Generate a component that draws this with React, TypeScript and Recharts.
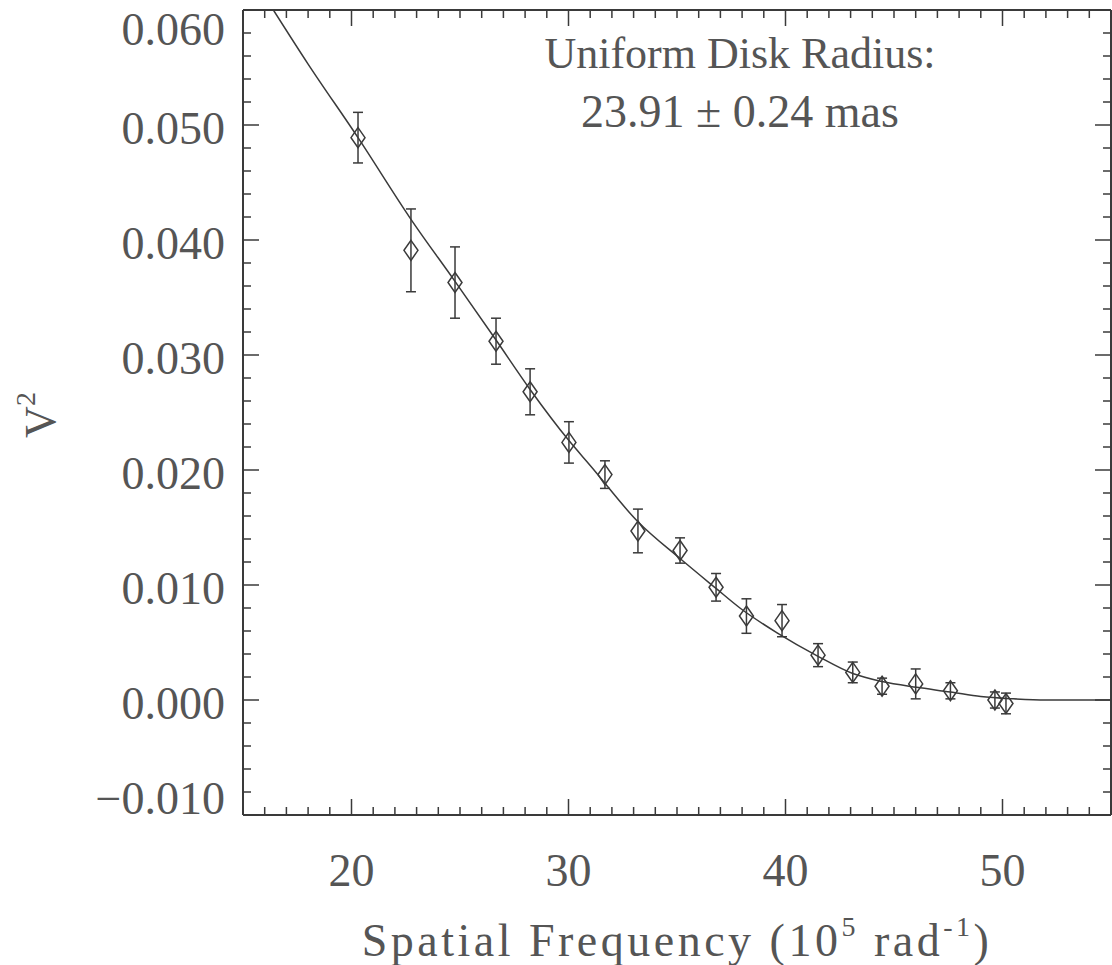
import React from 'react';
import { ComposedChart, Line, Scatter, ErrorBar, XAxis, YAxis } from 'recharts';

// measured squared visibilities
const freq = [20.3, 22.74, 24.77, 26.66, 28.23, 30.02, 31.68, 33.2, 35.14, 36.8, 38.2, 39.84, 41.5, 43.1, 44.45, 46.0, 47.6, 49.65, 50.16];
const vis2 = [0.0489, 0.0391, 0.0363, 0.0312, 0.0268, 0.0224, 0.0196, 0.0147, 0.013, 0.0098, 0.0073, 0.0069, 0.0039, 0.0024, 0.0012, 0.0014, 0.0008, 0.0, -0.0003];
const vis2Err = [0.0022, 0.0036, 0.0031, 0.002, 0.002, 0.0018, 0.0012, 0.0019, 0.0011, 0.0012, 0.0015, 0.0014, 0.001, 0.0009, 0.0007, 0.0013, 0.0007, 0.0007, 0.0009];

// uniform disk fit
const fitFreq = [16.4, 18.0, 20.3, 22.74, 24.77, 26.66, 28.23, 30.0, 31.0, 33.2, 35.14, 36.8, 37.9, 39.65, 41.5, 43.1, 44.45, 46.05, 47.6, 49.0, 50.5, 52.0, 53.5, 55.0];
const fitVis2 = [0.06, 0.0553, 0.0489, 0.0418, 0.0364, 0.0313, 0.027, 0.0226, 0.0204, 0.0155, 0.0123, 0.0097, 0.008, 0.0058, 0.0038, 0.0023, 0.0016, 0.0011, 0.0007, 0.0003, 0.0001, 0.0, 0.0, 0.0];

const xMajor = [20, 30, 40, 50];
const yMajor = [-0.01, 0.0, 0.01, 0.02, 0.03, 0.04, 0.05, 0.06];
const yLabels = ['\u22120.010', '0.000', '0.010', '0.020', '0.030', '0.040', '0.050', '0.060'];

const xTicks: number[] = [];
for (let i = 15; i <= 55; i++) xTicks.push(i);
const yTicks: number[] = [];
for (let i = -10; i <= 60; i += 2) yTicks.push(i / 1000);

const points = freq.map((x, i) => ({ x, y: vis2[i], err: vis2Err[i] }));
const fit = fitFreq.map((x, i) => ({ x, y: fitVis2[i] }));

const INK = '#3a3a3a';
const TEXT = '#555555';
const FONT = '"Liberation Serif", "Times New Roman", serif';
const MAJOR = 16;
const MINOR = 8;

const isMajorX = (v: number) => xMajor.some((m) => Math.abs(m - v) < 1e-6);
const majorYIndex = (v: number) => yMajor.findIndex((m) => Math.abs(m - v) < 1e-7);

const BottomTick = (props: any) => {
  const { x, y, payload } = props;
  const major = isMajorX(payload.value);
  return (
    <g>
      <line x1={x} y1={y} x2={x} y2={y - (major ? MAJOR : MINOR)} stroke={INK} strokeWidth={1.5} />
      {major && (
        <text x={x} y={y + 71} textAnchor="middle" fontFamily={FONT} fontSize={46} fill={TEXT}>
          {payload.value}
        </text>
      )}
    </g>
  );
};

const TopTick = (props: any) => {
  const { x, y, payload } = props;
  const major = isMajorX(payload.value);
  return <line x1={x} y1={y} x2={x} y2={y + (major ? MAJOR : MINOR)} stroke={INK} strokeWidth={1.5} />;
};

const LeftTick = (props: any) => {
  const { x, y, payload } = props;
  const idx = majorYIndex(payload.value);
  let shift = 3;
  if (idx === 0) shift = -17;
  if (idx === yMajor.length - 1) shift = 19;
  return (
    <g>
      <line x1={x} y1={y} x2={x + (idx >= 0 ? MAJOR : MINOR)} y2={y} stroke={INK} strokeWidth={1.5} />
      {idx >= 0 && (
        <text x={x - 18} y={y + shift + 16} textAnchor="end" fontFamily={FONT} fontSize={46} fill={TEXT}>
          {yLabels[idx]}
        </text>
      )}
    </g>
  );
};

const RightTick = (props: any) => {
  const { x, y, payload } = props;
  const idx = majorYIndex(payload.value);
  return <line x1={x} y1={y} x2={x - (idx >= 0 ? MAJOR : MINOR)} y2={y} stroke={INK} strokeWidth={1.5} />;
};

const Diamond = (props: any) => {
  const { cx, cy } = props;
  if (cx == null || cy == null) return null;
  return (
    <path
      d={`M${cx},${cy - 10} L${cx + 7},${cy} L${cx},${cy + 10} L${cx - 7},${cy} Z`}
      fill="none"
      stroke={INK}
      strokeWidth={1.5}
    />
  );
};

export default function App() {
  return (
    <div style={{ position: 'absolute', left: 0, top: 0, width: 1112, height: 965, background: '#fff' }}>
      <ComposedChart width={1112} height={965} margin={{ top: 9, right: 0, bottom: 149, left: 242 }}>
        <XAxis
          xAxisId="b"
          type="number"
          dataKey="x"
          domain={[15, 55]}
          allowDataOverflow
          ticks={xTicks}
          interval={0}
          height={1}
          tickSize={0}
          tickMargin={0}
          tickLine={false}
          tick={<BottomTick />}
          axisLine={{ stroke: INK, strokeWidth: 2 }}
        />
        <XAxis
          xAxisId="t"
          orientation="top"
          type="number"
          dataKey="x"
          domain={[15, 55]}
          allowDataOverflow
          ticks={xTicks}
          interval={0}
          height={1}
          tickSize={0}
          tickMargin={0}
          tickLine={false}
          tick={<TopTick />}
          axisLine={{ stroke: INK, strokeWidth: 2 }}
        />
        <YAxis
          yAxisId="l"
          type="number"
          dataKey="y"
          domain={[-0.01, 0.06]}
          allowDataOverflow
          ticks={yTicks}
          interval={0}
          width={1}
          tickSize={0}
          tickMargin={0}
          tickLine={false}
          tick={<LeftTick />}
          axisLine={{ stroke: INK, strokeWidth: 2 }}
        />
        <YAxis
          yAxisId="r"
          orientation="right"
          type="number"
          dataKey="y"
          domain={[-0.01, 0.06]}
          allowDataOverflow
          ticks={yTicks}
          interval={0}
          width={1}
          tickSize={0}
          tickMargin={0}
          tickLine={false}
          tick={<RightTick />}
          axisLine={{ stroke: INK, strokeWidth: 2 }}
        />
        <Line
          xAxisId="b"
          yAxisId="l"
          data={fit}
          dataKey="y"
          type="monotone"
          stroke={INK}
          strokeWidth={1.5}
          dot={false}
          isAnimationActive={false}
        />
        <Scatter xAxisId="b" yAxisId="l" data={points} dataKey="y" shape={<Diamond />} isAnimationActive={false}>
          <ErrorBar dataKey="err" direction="y" width={5} stroke={INK} strokeWidth={1.5} isAnimationActive={false} />
        </Scatter>
      </ComposedChart>
      <svg
        width={1112}
        height={965}
        style={{ position: 'absolute', left: 0, top: 0, pointerEvents: 'none' }}
        fontFamily={FONT}
        fill={TEXT}
      >
        <text x={740} y={68} textAnchor="middle" fontSize={44}>
          Uniform Disk Radius:
        </text>
        <text x={740} y={127} textAnchor="middle" fontSize={46}>
          23.91 ± 0.24 mas
        </text>
        <text x={677} y={956} textAnchor="middle" fontSize={46} letterSpacing={3.5}>
          Spatial Frequency (10
          <tspan fontSize={28} dy={-20}>5</tspan>
          <tspan dy={20}> rad</tspan>
          <tspan fontSize={28} dy={-20}>-1</tspan>
          <tspan dy={20}>)</tspan>
        </text>
        <text x={0} y={0} transform="translate(55,415) rotate(-90)" textAnchor="middle" fontSize={44}>
          V<tspan fontSize={28} dy={-20}>2</tspan>
        </text>
      </svg>
    </div>
  );
}
